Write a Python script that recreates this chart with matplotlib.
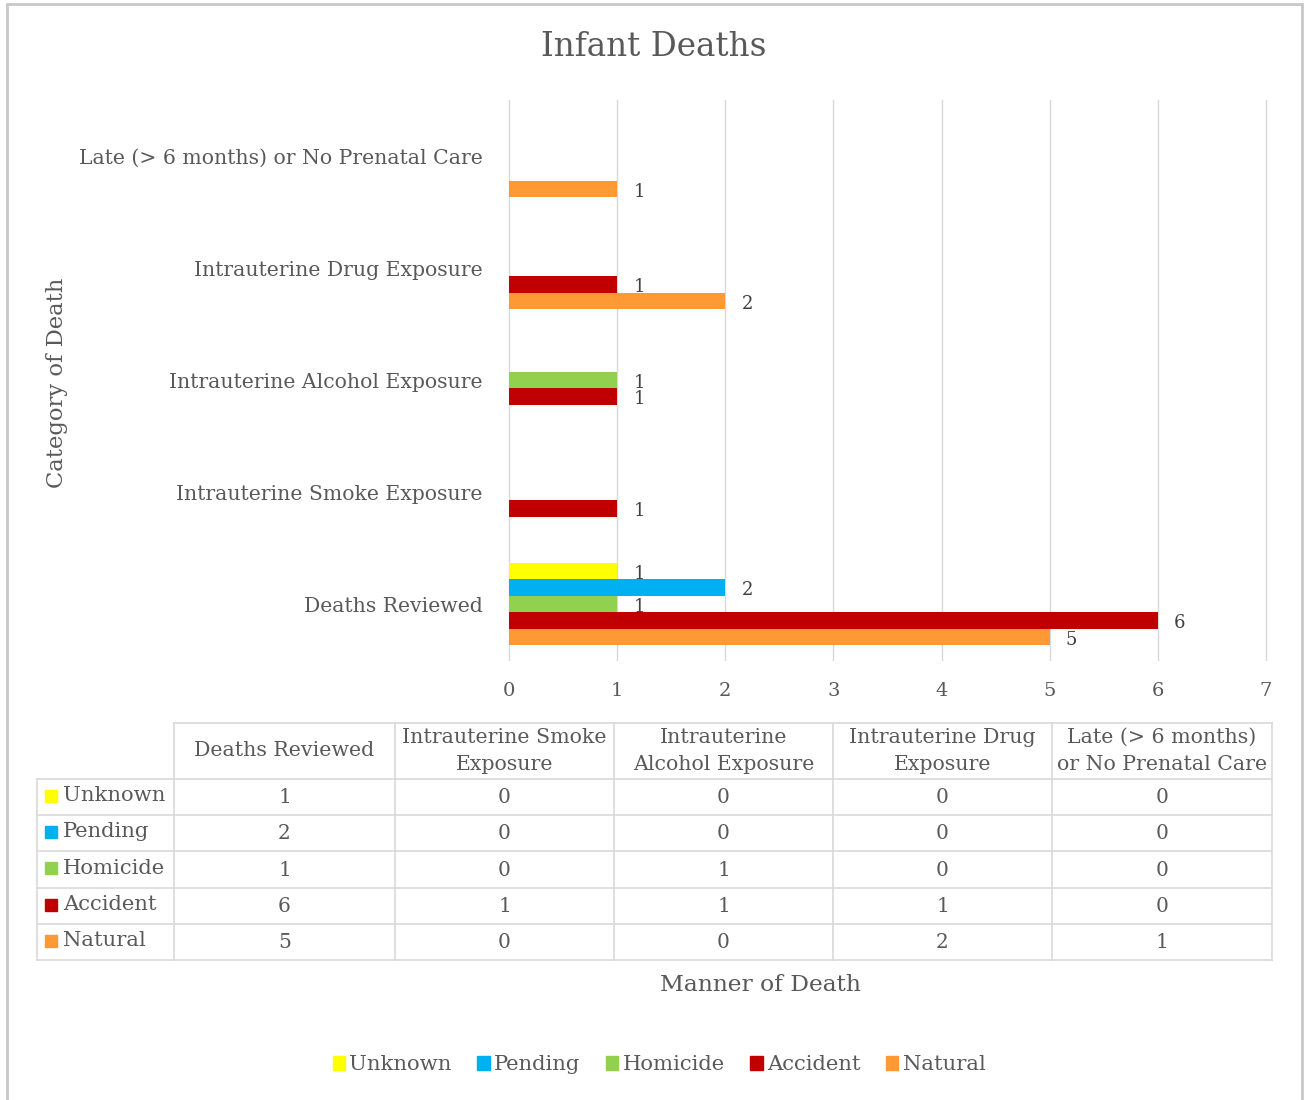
import matplotlib.pyplot as plt
from matplotlib.patches import Rectangle
import numpy as np

# category axis (bottom to top) and manner-of-death series
categories = ["Deaths Reviewed", "Intrauterine Smoke Exposure",
              "Intrauterine Alcohol Exposure", "Intrauterine Drug Exposure",
              "Late (> 6 months) or No Prenatal Care"]
table_headers = ["Deaths Reviewed", "Intrauterine Smoke\nExposure",
                 "Intrauterine\nAlcohol Exposure", "Intrauterine Drug\nExposure",
                 "Late (> 6 months)\nor No Prenatal Care"]
series = ["Unknown", "Pending", "Homicide", "Accident", "Natural"]
unknown = [1, 0, 0, 0, 0]
pending = [2, 0, 0, 0, 0]
homicide = [1, 0, 1, 0, 0]
accident = [6, 1, 1, 1, 0]
natural = [5, 0, 0, 2, 1]
values = [unknown, pending, homicide, accident, natural]
colors = ["#FFFF00", "#00B0F0", "#92D050", "#C00000", "#FF9933"]

W, H = 1308, 1100
FONT = "DejaVu Serif"
TXT = "#595959"
GRID = "#D9D9D9"

plt.rcParams["font.family"] = FONT
fig = plt.figure(figsize=(W / 100, H / 100), dpi=100)


def fx(px):
    return px / W


def fy(py):
    return 1 - py / H


# outer chart frame
fig.add_artist(Rectangle((fx(7), fy(1104)), fx(1302 - 7), (1104 - 4) / H,
                         transform=fig.transFigure, fill=False,
                         edgecolor="#C8C8C8", lw=2))

# --- bar chart ---
ax = fig.add_axes([fx(509), fy(660), fx(1266 - 509), (660 - 100) / H])
y = np.arange(len(categories))
h = 0.148
for k, (name, vals, c) in enumerate(zip(series, values, colors)):
    off = (2 - k) * h
    ax.barh(y + off, vals, height=h, color=c, label=name)
    for yi, v in zip(y, vals):
        if v > 0:
            ax.text(v + 0.15, yi + off - 0.025, str(v), va="center", ha="left",
                    fontsize=13, color="#404040")

ax.set_xlim(0, 7)
ax.set_ylim(-0.5, 4.5)
ax.set_xticks(range(8))
ax.set_xticklabels([str(i) for i in range(8)], fontsize=14, color=TXT)
ax.set_yticks(y)
ax.set_yticklabels(categories, fontsize=14.7, color=TXT)
ax.tick_params(length=0)
ax.tick_params(axis="x", pad=16)
ax.tick_params(axis="y", pad=19)
ax.grid(axis="x", color=GRID, lw=1)
for gl in ax.get_xgridlines():
    gl.set_clip_on(False)
ax.set_axisbelow(True)
for s in ax.spines.values():
    s.set_visible(False)

fig.text(fx(654), fy(47), "Infant Deaths", ha="center", va="center",
         fontsize=23.5, color=TXT)
fig.text(fx(57), fy(383), "Category of Death", ha="center", va="center",
         rotation=90, fontsize=16.3, color=TXT)
fig.text(fx(760), fy(985), "Manner of Death", ha="center", va="center",
         fontsize=16.8, color=TXT)

# --- data table ---
tab = fig.add_axes([fx(37), fy(960), fx(1272 - 37), (960 - 723) / H])
tab.set_xlim(37, 1272)
tab.set_ylim(960, 723)
tab.axis("off")
col_edges = [37, 174, 395, 614, 833, 1052, 1272]
row_edges = [723, 779, 815, 851, 888, 924, 960]
lkw = dict(color=GRID, lw=1.2, clip_on=False)

# horizontal rules
tab.plot([174, 1272], [723, 723], **lkw)
for r in row_edges[1:]:
    tab.plot([37, 1272], [r, r], **lkw)
# vertical rules
tab.plot([37, 37], [779, 960], **lkw)
for c in col_edges[1:]:
    tab.plot([c, c], [723, 960], **lkw)

for j, head in enumerate(table_headers):
    cx = (col_edges[j + 1] + col_edges[j + 2]) / 2
    tab.text(cx, (723 + 779) / 2, head, ha="center", va="center",
             fontsize=14.8, color=TXT, linespacing=1.5)

for i, (name, vals, c) in enumerate(zip(series, values, colors)):
    cy = (row_edges[i + 1] + row_edges[i + 2]) / 2
    tab.add_patch(Rectangle((45, cy - 7), 12, 12, color=c, clip_on=False))
    tab.text(63, cy - 1, name, ha="left", va="center", fontsize=15.2, color=TXT)
    for j, v in enumerate(vals):
        cx = (col_edges[j + 1] + col_edges[j + 2]) / 2
        tab.text(cx, cy + 1, str(v), ha="center", va="center",
                 fontsize=14.5, color=TXT)

# --- legend ---
handles = [Rectangle((0, 0), 1, 1, color=c) for c in colors]
fig.legend(handles, series, loc="center", bbox_to_anchor=(fx(659), fy(1065)),
           ncol=5, frameon=False, fontsize=15.2, handlelength=0.6,
           handleheight=0.6, handletextpad=0.2, columnspacing=1.2,
           labelcolor=TXT)

fig.savefig("out.png", dpi=100, facecolor="white")
